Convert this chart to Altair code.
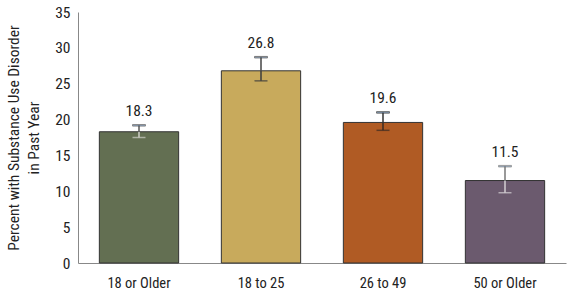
import altair as alt
import pandas as pd

categories = ["18 or Older", "18 to 25", "26 to 49", "50 or Older"]
values = [18.3, 26.8, 19.6, 11.5]
lower = [17.5, 25.4, 18.5, 9.8]
upper = [19.2, 28.7, 21.0, 13.5]
labels = ["18.3", "26.8", "19.6", "11.5"]
y_ticks = [0, 5, 10, 15, 20, 25, 30, 35]

bar_colors = ["#636f52", "#c8aa5c", "#b05b24", "#6b5a6e"]
inner_err_colors = ["#cfcfc8", "#3c3c3c", "#3a2a22", "#d4d0d4"]
outer_err_colors = ["#555555", "#444444", "#333333", "#777777"]

df = pd.DataFrame({"cat": categories, "val": values, "lo": lower, "hi": upper, "lab": labels})

FONT = "'Liberation Sans Narrow', 'Roboto Condensed', 'DejaVu Sans Condensed', 'Liberation Sans', sans-serif"
YTITLE = ["Percent with Substance Use Disorder", "in Past Year"]

xaxis = alt.Axis(labelAngle=0, ticks=False, labelPadding=13, labelFontSize=14.5,
                 labelColor="#222222", domainColor="#888888", labelFont=FONT)
yaxis = alt.Axis(values=y_ticks, ticks=False, grid=False, labelOverlap=False,
                 labelPadding=8, labelFontSize=15.5, labelColor="#222222",
                 domainColor="#888888", labelFont=FONT, titleFont=FONT,
                 titleFontSize=15.5, titleFontWeight="normal", titleColor="#222222",
                 titlePadding=13, titleLineHeight=20)
xscale = alt.Scale(paddingInner=0.35, paddingOuter=0.175)
yscale = alt.Scale(domain=[0, 35], nice=False)


def X():
    return alt.X("cat:N", sort=categories, title=None, scale=xscale, axis=xaxis)


def Y(field):
    return alt.Y(field, type="quantitative", scale=yscale, axis=yaxis, title=YTITLE)


base = alt.Chart(df)

bars = base.mark_bar(stroke="#333333", strokeWidth=1).encode(
    x=X(),
    y=Y("val"),
    fill=alt.Fill("cat:N", sort=categories, scale=alt.Scale(domain=categories, range=bar_colors), legend=None),
)

inner_rule = base.mark_rule(strokeWidth=1.5).encode(
    x=X(),
    y=Y("lo"),
    y2="val:Q",
    color=alt.Color("cat:N", scale=alt.Scale(domain=categories, range=inner_err_colors), legend=None),
)
outer_rule = base.mark_rule(strokeWidth=1.5).encode(
    x=X(),
    y=Y("val"),
    y2="hi:Q",
    stroke=alt.Stroke("cat:N", scale=alt.Scale(domain=categories, range=outer_err_colors), legend=None),
)
low_cap = base.mark_tick(size=13, thickness=1.5, orient="horizontal").encode(
    x=X(),
    y=Y("lo"),
    color=alt.Color("cat:N", scale=alt.Scale(domain=categories, range=inner_err_colors), legend=None),
)
hi_cap = base.mark_tick(size=13, thickness=1.5, orient="horizontal").encode(
    x=X(),
    y=Y("hi"),
    stroke=alt.Stroke("cat:N", scale=alt.Scale(domain=categories, range=outer_err_colors), legend=None),
)
text = base.mark_text(baseline="bottom", dy=-6, fontSize=15.5, font=FONT, color="#222222").encode(
    x=X(),
    y=Y("hi"),
    text="lab:N",
)

chart = alt.layer(bars, inner_rule, outer_rule, low_cap, hi_cap, text).resolve_scale(
    color="independent", stroke="independent"
).properties(
    width=488, height=251,
    autosize=alt.AutoSizeParams(type="none"),
    padding={"left": 78, "top": 12, "right": 5, "bottom": 33},
).configure(background="white").configure_view(stroke=None, strokeWidth=0)

chart.save("out.html", embed_options={"renderer": "svg", "actions": False})
